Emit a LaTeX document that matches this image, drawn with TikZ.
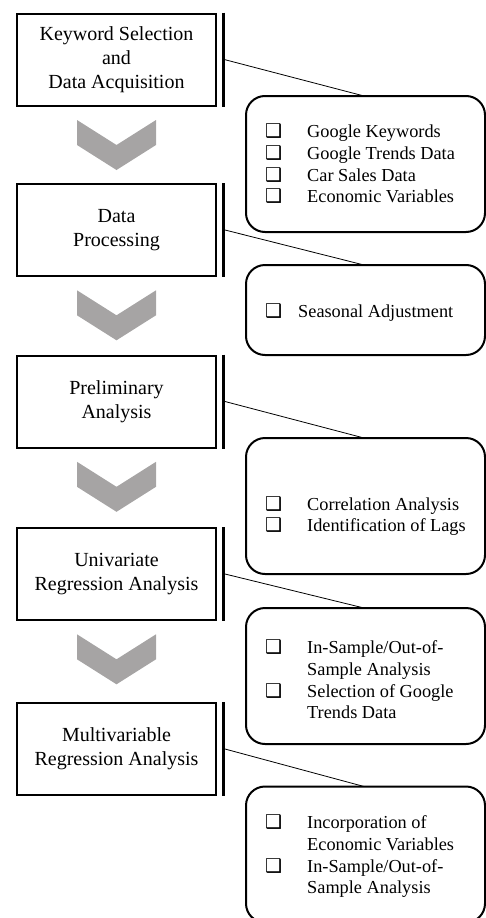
\documentclass[tikz,border=0pt]{standalone}
\usepackage{fontspec}
\setmainfont{Liberation Serif}
\newfontfamily\symfont{DejaVu Sans}
\definecolor{chevgray}{RGB}{166,164,164}
\newcommand{\bx}{{\symfont\fontsize{19}{19}\selectfont ❑}}
\newcommand{\bl}[1]{\makebox[#1][l]{\hspace{-1pt}\bx}}
\begin{document}
\begin{tikzpicture}[x=1pt,y=-1pt,
  stage/.style={draw, line width=2pt, outer sep=0pt, minimum width=199pt, minimum height=92pt,
    align=center, font=\fontsize{20}{24}\selectfont, inner sep=0pt},
  panel/.style={draw, line width=2pt, rounded corners=19pt, outer sep=0pt, minimum width=239pt, inner sep=0pt},
  items/.style={anchor=west, inner sep=0pt, font=\fontsize{18.3}{21.6}\selectfont},
  bar/.style={line width=3pt},
  conn/.style={line width=0.8pt},
  chev/.style={fill=chevgray}]
\useasboundingbox (0,0) rectangle (486,918);

% stages
\node[stage] (b1) at (116.5,59.7) {Keyword Selection\\and\\Data Acquisition};
\node[stage] (b2) at (116.5,230) {Data\\Processing};
\node[stage] (b3) at (116.5,401.5) {Preliminary\\Analysis};
\node[stage] (b4) at (116.5,574) {Univariate\\Regression Analysis};
\node[stage] (b5) at (116.5,749) {Multivariable\\Regression Analysis};

% panels
\node[panel, minimum height=136pt] (r1) at (365.5,164) {};
\node[panel, minimum height=90pt] (r2) at (365.5,310) {};
\node[panel, minimum height=136pt] (r3) at (365.5,506) {};
\node[panel, minimum height=136pt] (r4) at (365.5,676) {};
\node[panel, minimum height=136pt] (r5) at (365.5,854.5) {};

% item lists
\node[items] (t1) at (266,166) {\begin{tabular}{@{}l@{}l@{}}
\bl{41pt} & Google Keywords\\
\bl{41pt} & Google Trends Data\\
\bl{41pt} & Car Sales Data\\
\bl{41pt} & Economic Variables
\end{tabular}};
\node[items] (t2) at (266,313) {\begin{tabular}{@{}l@{}l@{}}
\bl{32pt} & Seasonal Adjustment
\end{tabular}};
\node[items] (t3) at (266,516.5) {\begin{tabular}{@{}l@{}l@{}}
\bl{41pt} & Correlation Analysis\\
\bl{41pt} & Identification of Lags
\end{tabular}};
\node[items] (t4) at (266,682) {\begin{tabular}{@{}l@{}l@{}}
\bl{41pt} & In-Sample/Out-of-\\
 & Sample Analysis\\
\bl{41pt} & Selection of Google\\
 & Trends Data
\end{tabular}};
\node[items] (t5) at (266,857) {\begin{tabular}{@{}l@{}l@{}}
\bl{41pt} & Incorporation of\\
 & Economic Variables\\
\bl{41pt} & In-Sample/Out-of-\\
 & Sample Analysis
\end{tabular}};

% bars and connectors
\foreach \i in {1,...,5}{
  \draw[bar] ([xshift=7.5pt,yshift=1pt]b\i.north east) -- ([xshift=7.5pt,yshift=-1pt]b\i.south east);
  \draw[conn] ([xshift=9pt]b\i.east) -- ([xshift=-1.5pt]r\i.north);
}

% chevrons
\foreach \i in {1,...,4}{
  \fill[chev] ([yshift=-14.3pt]b\i.south) ++(-39.5,0) -- ++(39.5,25) -- ++(39.5,-25)
    -- ++(0,25) -- ++(-39.5,25) -- ++(-39.5,-25) -- cycle;
}
\end{tikzpicture}
\end{document}
